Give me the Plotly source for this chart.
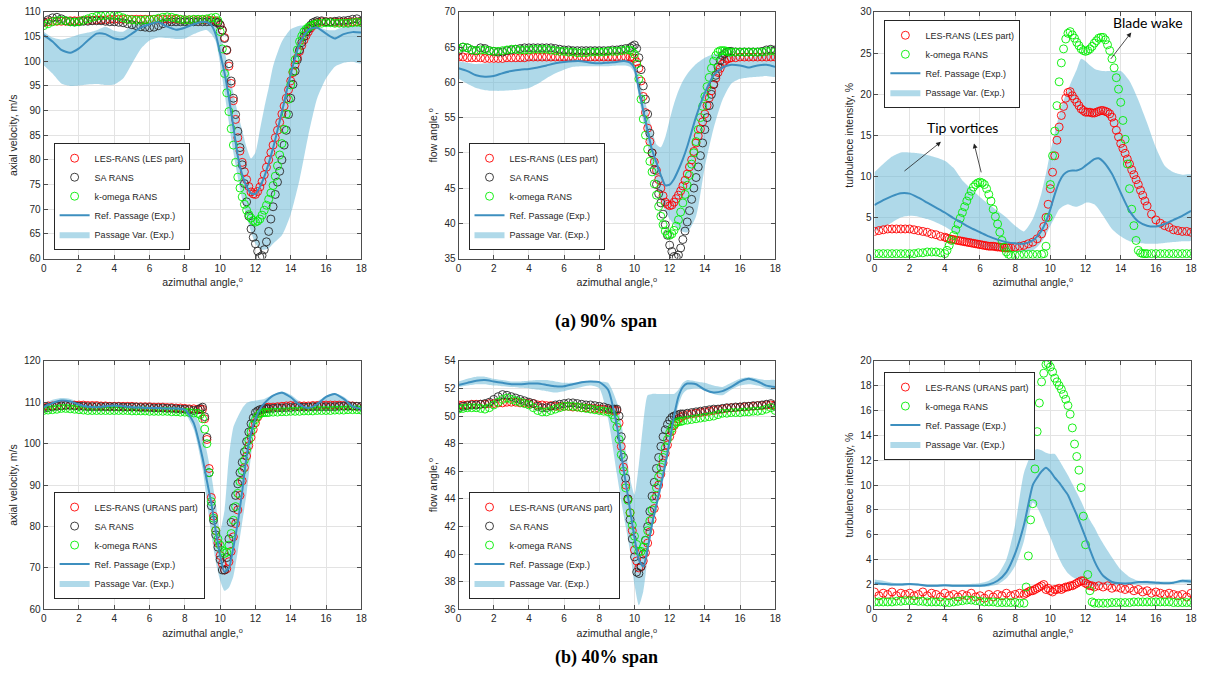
import plotly.graph_objects as go

# ---------------- data ----------------
XS = [0,0.25,0.5,0.75,1,1.25,1.5,1.75,2,2.25,2.5,2.75,3,3.25,3.5,3.75,4,4.25,4.5,4.75,
      5,5.25,5.5,5.75,6,6.25,6.5,6.75,7,7.25,7.5,7.75,8,8.25,8.5,8.75,9,9.25,9.5,9.75,
      10,10.25,10.5,10.75,11,11.25,11.5,11.75,12,12.25,12.5,12.75,13,13.25,13.5,13.75,
      14,14.25,14.5,14.75,15,15.25,15.5,15.75,16,16.25,16.5,16.75,17,17.25,17.5,17.75,18]
XR = [0,0.5,1,1.5,2,2.5,3,3.5,4, 4.5,5,5.5,6,6.5,7,7.5,8,8.5,
      9,9.25,9.5,9.75,10,10.25,10.5,10.75,11, 11.25,11.5,11.75,12,12.25,12.5,12.75,13,13.5,
      14,14.5,15,15.5,16,16.5,17,17.5,18]
# extra angles sampled inside the wake (denser data there)
XM_A = [9.875,10.125,10.375,10.625,10.875,11.125,11.375,11.625,11.875,12.125,12.375,12.625,
        12.875,13.125,13.375,13.625,13.875,14.125,14.375,14.625,14.875,15.125,15.375]
XM_T = [4.125,4.375,4.625,4.875,5.125,5.375,5.625,5.875,6.125,6.375,6.625,6.875,7.125,7.375,7.625,
        9.625,9.875,10.125,10.375,10.625,10.875,11.125,11.375,11.625,11.875,12.125,12.375,12.625,
        12.875,13.125,13.375,13.625,13.875,14.125,14.375,14.625,14.875,15.125,15.375]
XM_B = [8.875,9.125,9.375,9.625,9.875,10.125,10.375,10.625,10.875,11.125,11.375,11.625,
        11.875,12.125,12.375,12.625]
XM_C = [8.625,8.875,9.125,9.375,9.625,9.875,10.125,10.375,10.625,10.875,11.125,11.375,
        11.625,11.875,12.125,12.375]

# (a) 90% span - axial velocity
LES1 = [107.8,108.0,108.1,108.1, 108.1,108.1,108.2,108.2, 108.2,108.3,108.3,108.3, 108.4,108.4,108.4,108.5,
        108.5,108.5,108.5,108.5, 108.5,108.5,108.5,108.5, 108.5,108.5,108.5,108.5, 108.5,108.5,108.5,108.4,
        108.4,108.4,108.4,108.4, 108.4,108.4,108.3,108.2, 107.3,104.8,99.0,92.0, 84.5,79.5,76.0,73.5,
        73.0,74.5,77.0,80.0, 83.0,86.0,89.3,92.5, 96.0,99.3,102.0,104.3, 106.0,107.2,107.8,108.0,
        108.0,108.0,107.9,107.9, 107.9,107.9,108.0,108.0, 107.9]
LES1M = [107.9,106.3,102.2,95.5,88.2,81.8,77.6,74.6,73.1,73.6,75.6,78.5,
         81.5,84.5,87.6,90.9,94.2,97.7,100.7,103.2,105.2,106.7,107.5]
SA1 = [108.0,108.4,108.8,108.9, 108.6,108.2,108.0,108.0, 108.0,108.1,108.1,108.2, 108.2,108.2,108.1,108.0,
       108.0,107.9,107.8,107.6, 107.4,107.2,107.0,106.9, 106.8,106.9,107.2,107.6, 107.9,108.0,108.0,108.0,
       108.0,108.0,108.0,108.0, 108.0,108.0,108.0,107.9, 107.4,104.6,99.5,92.5, 85.8,79.0,71.5,66.0,
       63.0,60.3,61.8,65.5, 70.5,75.5,80.0,86.0, 92.5,98.0,102.3,105.0, 106.6,107.8,108.2,108.2,
       108.0,108.0,108.1,108.2, 108.2,108.3,108.5,108.6, 108.2]
SA1M = [107.8,106.3,102.3,96.0,89.2,82.5,75.2,68.6,64.3,61.5,60.6,63.4,
        68.0,73.0,77.7,83.0,89.2,95.3,100.3,103.8,106.0,107.3,108.0]
KW1 = [107.2,107.6,108.0,108.2, 108.3,108.2,108.0,107.9, 108.0,108.3,108.6,108.9, 109.1,109.2,109.3,109.3,
       109.3,109.1,108.8,108.5, 108.4,108.3,108.3,108.4, 108.4,108.5,108.7,108.9, 109.0,108.9,108.7,108.5,
       108.4,108.4,108.5,108.5, 108.5,108.6,108.8,108.9, 106.0,97.5,89.8,83.0, 76.5,72.5,69.8,68.2,
       67.4,68.0,69.8,72.0, 74.8,78.8,83.3,89.3, 95.2,100.3,104.0,106.0, 106.9,107.3,107.6,107.7,
       107.8,107.8,107.7,107.7, 107.7,107.7,107.8,107.9, 107.8]
KW1M = [108.2,102.5,93.6,86.3,79.5,74.3,71.0,68.9,67.7,67.6,68.8,70.8,
        73.3,76.7,81.0,86.2,92.3,97.9,102.3,105.1,106.5,107.1,107.5]
REF1 = [105.3,104.0,102.3,101.7,102.6,104.2,105.6,105.5,104.6,
        104.5,105.6,106.8,107.5,107.9,107.0,106.4,106.8,107.5,
        108.0,107.9,107.3,105.4,101.6,97.6,92.5,86.7,80.8,
        77.0,74.6,73.2,73.1,74.5,76.6,79.3,82.4,89.7,
        97.4,103.5,106.4,106.8,105.6,104.6,105.5,105.9,105.8]
UP1 = [106.0,104.8,104.4,104.8,105.4,105.8,106.3,107.0,106.2,
       106.0,107.2,108.0,108.4,108.8,108.4,108.0,108.0,108.3,
       108.5,108.6,108.5,107.8,105.5,102.0,98.0,93.5,89.5,
       86.0,82.5,80.3,81.5,86.0,90.5,94.6,99.0,104.0,
       106.5,107.2,107.2,107.0,106.4,106.3,107.0,107.3,107.3]
LOW1 = [99.2,97.5,95.5,95.0,95.1,95.3,95.4,95.2,95.3,
        96.5,99.5,102.5,104.2,104.8,104.7,104.5,104.6,105.5,
        106.2,106.3,105.5,104.0,99.5,93.5,87.5,81.5,76.5,
        72.0,68.5,65.5,63.0,62.0,61.8,62.1,63.0,64.7,
        69.0,76.0,85.0,92.5,96.5,98.9,99.7,99.9,99.6]

# (a) 90% span - flow angle
LES2 = [63.6,63.6,63.5,63.5, 63.5,63.5,63.4,63.4, 63.4,63.4,63.4,63.5, 63.5,63.5,63.5,63.5,
        63.6,63.6,63.6,63.6, 63.6,63.6,63.6,63.6, 63.6,63.6,63.6,63.6, 63.6,63.6,63.6,63.6,
        63.6,63.6,63.6,63.6, 63.6,63.6,63.6,63.6, 63.4,62.0,58.0,53.5, 50.0,47.5,45.0,43.0,
        42.5,43.0,44.0,45.3, 47.0,49.0,51.4,53.4, 55.5,57.8,59.7,61.4, 62.6,63.3,63.5,63.5,
        63.6,63.6,63.6,63.6, 63.6,63.6,63.6,63.6, 63.6]
LES2M = [63.5,62.9,60.2,55.7,51.6,48.7,46.2,43.9,42.7,42.6,43.5,44.6,
         46.1,48.0,50.2,52.4,54.4,56.7,58.8,60.6,62.0,63.0,63.4]
SA2 = [64.5,65.0,64.9,64.6, 64.5,64.9,64.8,64.5, 64.4,64.3,64.3,64.5, 64.6,64.7,64.8,64.9,
       64.9,64.9,64.9,64.9, 64.9,64.9,64.8,64.7, 64.6,64.6,64.5,64.5, 64.5,64.5,64.5,64.5,
       64.5,64.5,64.5,64.6, 64.6,64.7,64.8,64.9, 65.3,63.5,59.5,55.5, 50.0,45.5,42.9,39.8,
       36.9,35.3,35.5,37.7, 40.2,43.4,46.5,49.6, 53.3,56.7,59.7,62.2, 63.8,64.3,64.4,64.3,
       64.3,64.3,64.3,64.3, 64.3,64.4,64.6,64.7, 64.6]
SA2M = [65.1,64.8,61.8,57.6,52.8,47.6,44.2,41.3,38.3,36.0,35.2,36.5,
        38.9,41.8,45.0,48.0,51.4,55.0,58.3,61.0,63.1,64.1,64.4]
KW2 = [64.8,65.0,64.9,64.6, 64.5,64.6,64.6,64.5, 64.4,64.4,64.5,64.6, 64.7,64.7,64.6,64.6,
       64.6,64.7,64.7,64.7, 64.7,64.6,64.5,64.4, 64.4,64.3,64.3,64.2, 64.2,64.2,64.3,64.3,
       64.3,64.3,64.4,64.4, 64.4,64.5,64.6,64.6, 64.0,60.5,54.8,50.5, 47.3,44.0,41.0,38.9,
       38.3,39.0,40.5,42.9, 45.4,48.4,51.6,55.0, 58.0,60.7,63.0,64.3, 64.5,64.4,64.3,64.3,
       64.3,64.3,64.3,64.3, 64.3,64.3,64.4,64.5, 64.4]
KW2M = [64.4,62.6,57.6,52.5,48.8,45.6,42.4,39.8,38.5,38.5,39.6,41.6,
        44.1,46.8,50.0,53.3,56.6,59.4,62.0,63.8,64.5,64.5,64.3]
REF2 = [62.0,61.6,61.0,60.8,60.9,61.3,61.6,61.8,61.9,
        62.1,62.4,62.7,62.9,63.0,63.0,62.8,62.7,62.8,
        62.9,63.0,63.0,62.8,62.0,59.0,56.0,53.1,50.4,
        48.6,46.8,45.4,45.5,46.3,47.6,49.1,50.9,55.1,
        58.5,61.0,62.1,62.5,62.4,62.1,62.4,62.5,62.2]
UP2 = [63.0,62.8,62.6,62.7,62.8,62.9,63.0,63.1,63.3,
       63.3,63.3,63.3,63.3,63.3,63.2,63.2,63.3,63.3,
       63.3,63.3,63.3,63.3,62.8,60.8,58.2,55.9,53.2,
       51.2,50.8,52.2,54.7,57.0,58.8,60.2,61.2,62.6,
       63.5,64.0,64.0,63.8,63.5,63.5,63.7,63.9,63.8]
LOW2 = [60.5,59.8,59.2,58.9,58.8,58.8,58.9,59.0,59.2,
        59.8,60.6,61.3,61.8,62.2,62.3,62.3,62.3,62.3,
        62.4,62.4,62.4,62.2,61.3,58.0,54.5,51.0,47.8,
        45.5,43.0,41.8,40.6,39.8,39.2,38.8,38.7,41.0,
        48.0,53.5,57.5,59.8,60.5,60.7,60.8,60.9,60.8]

# (a) 90% span - turbulence intensity
LES3 = [3.3,3.4,3.5,3.6, 3.6,3.6,3.6,3.6, 3.6,3.5,3.4,3.3, 3.2,3.0,2.9,2.7,
        2.6,2.4,2.3,2.2, 2.1,2.0,1.9,1.8, 1.7,1.6,1.5,1.5, 1.4,1.35,1.3,1.35,
        1.4,1.5,1.6,1.8, 2.0,2.4,3.0,5.0, 8.5,12.5,16.0,18.5, 20.2,19.8,19.0,18.2,
        17.8,17.8,17.7,17.9, 18.0,17.8,17.2,15.6, 14.0,12.8,11.5,10.2, 9.0,7.7,6.4,5.4,
        4.7,4.3,4.0,3.8, 3.5,3.4,3.3,3.3, 3.2]
LES3M = [2.5,2.35,2.25,2.15,2.05,1.95,1.85,1.75,1.65,1.55,1.5,1.45,1.4,1.3,1.3,
         3.9,6.6,10.5,14.4,17.4,19.5,20.3,19.4,18.6,18.0,17.8,17.7,17.8,
         18.0,17.9,17.6,16.5,14.8,13.4,12.1,10.8,9.6,8.3,7.0]
KW3 = [0.6,0.6,0.6,0.6, 0.6,0.6,0.6,0.6, 0.6,0.6,0.7,0.7, 0.8,0.8,0.8,0.7,
       0.6,1.6,2.8,4.2, 5.6,7.0,8.2,9.0, 9.3,9.0,7.8,6.0, 4.2,2.2,0.8,0.4,
       0.4,0.4,0.5,0.5, 0.5,0.5,0.5,1.5, 9.0,15.5,21.5,25.5, 27.4,27.2,26.3,25.5,
       25.2,25.5,26.2,26.8, 26.9,26.0,24.3,22.0, 19.0,14.5,8.5,4.0, 1.0,0.6,0.6,0.6,
       0.6,0.6,0.6,0.6, 0.6,0.6,0.6,0.6, 0.6]
KW3M = [1.0,2.2,3.5,4.9,6.3,7.6,8.7,9.2,9.2,8.5,7.0,5.1,3.2,1.4,0.5,
        0.6,5.0,12.5,18.6,23.8,26.7,27.6,26.8,25.9,25.3,25.3,25.8,26.5,
        26.9,26.6,25.3,23.2,20.6,16.8,11.5,6.0,2.2,0.7,0.6]
REF3 = [6.5,7.1,7.6,7.95,7.9,7.4,6.8,6.2,5.6,
        4.9,4.3,3.7,3.2,2.7,2.3,2.0,1.85,1.8,
        2.2,2.7,3.4,4.5,6.0,7.8,9.3,10.2,10.6,
        10.7,10.7,10.9,11.3,11.7,12.1,12.2,11.8,10.3,
        8.0,5.8,4.5,4.0,3.9,4.2,4.7,5.2,5.8]
UP3 = [10.5,11.5,12.4,12.9,12.9,12.8,12.6,12.3,11.9,
       11.0,9.5,8.5,7.5,6.6,5.8,5.0,4.0,3.3,
       4.8,6.2,8.0,10.3,13.0,15.3,17.5,19.2,20.5,
       21.8,23.0,24.3,24.0,23.5,23.1,22.9,22.8,22.8,
       22.8,21.6,19.3,16.5,13.5,11.3,10.5,10.2,10.2]
LOW3 = [3.3,3.8,4.4,5.0,5.2,5.1,4.8,4.4,3.9,
        3.2,2.5,1.9,1.5,1.2,1.0,0.9,0.8,0.8,
        1.0,1.4,2.0,2.9,4.0,5.0,6.0,6.4,6.6,
        6.4,6.3,6.5,6.8,6.8,6.6,6.0,5.2,3.6,
        2.7,2.1,1.9,1.8,1.8,1.9,2.0,2.1,2.2]

# (b) 40% span - axial velocity
LES4 = [109.0,109.1,109.1,109.2, 109.2,109.3,109.3,109.3, 109.3,109.3,109.2,109.2, 109.2,109.1,109.1,109.0,
        109.0,109.0,109.0,109.0, 109.0,108.9,108.9,108.9, 108.9,108.8,108.8,108.8, 108.7,108.7,108.6,108.6,
        108.5,108.4,108.4,108.3, 108.3,101.0,87.0,79.0, 73.0,69.5,71.5,77.5, 84.0,91.0,97.0,101.5,
        105.0,107.5,108.5,108.8, 108.8,108.9,109.0,109.1, 109.2,109.2,109.1,109.1, 109.1,109.2,109.2,109.3,
        109.3,109.3,109.3,109.3, 109.2,109.2,109.1,109.0, 109.0]
LES4M = [108.3,106.0,94.0,82.5,76.0,71.0,69.8,74.0,80.7,87.5,94.2,99.5,103.4,106.4,108.1,108.7]
SA4 = [108.5,108.7,108.9,109.0, 109.1,109.2,109.2,109.1, 109.0,109.0,108.9,108.9, 108.9,108.9,108.9,108.9,
       108.9,108.9,108.8,108.8, 108.8,108.8,108.7,108.7, 108.7,108.6,108.6,108.6, 108.5,108.5,108.4,108.3,
       108.3,108.2,108.0,108.2, 108.8,101.5,85.0,78.0, 72.0,69.5,77.0,84.5, 90.3,95.5,100.5,104.8,
       107.5,108.2,108.4,108.4, 108.5,108.6,108.6,108.7, 108.7,108.8,108.8,108.8, 108.8,108.9,108.9,108.9,
       108.9,108.9,108.9,109.0, 109.0,109.0,109.0,109.0, 109.0]
SA4M = [108.5,106.5,93.0,81.5,75.0,69.5,72.5,81.0,87.5,93.0,98.0,102.8,106.2,107.9,108.3,108.5]
KW4 = [108.0,108.1,108.2,108.3, 108.5,108.5,108.4,108.3, 108.2,108.1,108.0,108.0, 108.0,108.0,108.0,108.0,
       108.0,108.0,108.0,108.0, 107.9,107.9,107.9,107.9, 107.8,107.8,107.8,107.8, 107.8,107.7,107.7,107.6,
       107.6,107.5,107.4,107.3, 106.0,100.0,86.0,79.0, 75.5,73.5,75.5,81.5, 88.0,93.5,98.5,102.8,
       105.8,107.2,107.5,107.5, 107.6,107.6,107.7,107.7, 107.8,107.8,107.8,107.9, 107.9,107.9,108.0,108.0,
       108.0,108.0,108.1,108.1, 108.1,108.2,108.2,108.2, 108.1]
KW4M = [107.0,103.5,93.0,82.0,77.0,74.2,73.8,78.3,84.8,90.8,96.0,100.8,104.5,106.6,107.4,107.5]
REF4 = [108.8,109.8,110.4,110.2,109.4,108.9,108.8,109.0,109.2,
        109.0,108.8,108.7,108.6,108.6,108.5,108.5,108.2,105.0,
        96.6,91.0,85.6,79.0,73.0,69.0,70.0,75.0,81.0,
        88.5,97.0,102.5,106.0,108.3,109.7,110.8,111.6,112.3,
        111.2,109.4,108.6,109.5,111.3,112.0,110.8,109.0,108.4]
UP4 = [109.5,110.6,111.0,110.8,110.0,109.6,109.4,109.6,109.7,
       109.5,109.3,109.3,109.3,109.2,109.2,109.2,109.0,107.5,
       103.0,98.0,92.5,85.5,79.0,84.0,97.0,104.0,106.5,
       108.5,109.8,110.2,110.4,110.6,110.8,111.3,111.8,112.6,
       111.8,110.2,109.5,110.2,111.5,112.2,111.3,109.8,109.2]
LOW4 = [108.0,108.8,109.3,109.2,108.7,108.5,108.4,108.5,108.6,
        108.4,108.2,108.1,108.1,108.0,107.9,107.7,107.3,103.5,
        94.0,86.0,78.0,71.5,67.0,64.5,65.3,68.0,74.0,
        81.0,88.0,97.0,104.5,106.8,107.4,107.6,107.8,108.0,
        108.3,108.2,108.1,108.3,108.4,108.4,108.4,108.2,107.8]

# (b) 40% span - flow angle
LES5 = [50.8,50.8,50.8,50.85, 50.85,50.85,50.85,50.9, 50.9,50.95,50.95,51.0, 51.0,51.0,50.95,50.95,
        50.9,50.9,50.8,50.8, 50.75,50.75,50.7,50.7, 50.7,50.7,50.65,50.65, 50.6,50.6,50.55,50.55,
        50.5,50.5,50.45,50.4, 50.4,47.8,45.0,43.0, 40.3,39.0,39.5,40.8, 42.5,44.2,45.8,47.3,
        48.5,49.3,49.8,50.0, 50.1,50.15,50.2,50.25, 50.3,50.35,50.4,50.45, 50.5,50.55,50.6,50.6,
        50.65,50.65,50.7,50.7, 50.75,50.75,50.8,50.8, 50.8]
LES5M = [50.4,49.5,46.3,44.0,41.7,39.5,39.1,40.1,41.6,43.3,45.0,46.6,47.9,48.9,49.6,49.9]
SA5 = [50.6,50.7,50.75,50.8, 50.8,50.85,50.9,51.0, 51.2,51.4,51.55,51.5, 51.4,51.3,51.2,51.1,
       51.0,50.9,50.7,50.6, 50.6,50.7,50.8,50.85, 50.9,50.95,50.95,50.9, 50.85,50.8,50.8,50.75,
       50.7,50.65,50.55,50.5, 50.5,48.5,45.5,42.5, 39.8,38.6,40.0,42.0, 44.2,46.2,47.8,49.0,
       49.7,50.0,50.1,50.15, 50.2,50.25,50.3,50.35, 50.4,50.45,50.5,50.5, 50.55,50.6,50.6,50.65,
       50.65,50.7,50.7,50.75, 50.75,50.8,50.85,50.9, 50.7]
SA5M = [50.5,50.0,47.0,44.0,41.1,38.7,39.1,41.0,43.1,45.2,47.0,48.5,49.4,49.9,50.05,50.15]
KW5 = [50.5,50.55,50.6,50.6, 50.6,50.55,50.5,50.6, 50.8,51.0,51.2,51.3, 51.2,51.1,51.0,50.9,
       50.8,50.6,50.4,50.3, 50.3,50.4,50.5,50.6, 50.7,50.7,50.7,50.65, 50.6,50.55,50.5,50.45,
       50.4,50.35,50.3,50.1, 49.2,47.2,44.8,43.0, 41.3,40.2,40.5,41.7, 43.2,44.8,46.3,47.7,
       48.8,49.4,49.6,49.65, 49.7,49.75,49.8,49.85, 49.9,49.95,50.0,50.1, 50.2,50.2,50.25,50.25,
       50.25,50.3,50.3,50.35, 50.35,50.4,50.5,50.6, 50.4]
KW5M = [49.8,48.3,46.0,43.9,42.1,40.7,40.2,41.0,42.4,44.0,45.6,47.0,48.3,49.1,49.5,49.6]
REF5 = [52.25,52.4,52.55,52.6,52.5,52.4,52.3,52.3,52.35,
        52.35,52.25,52.15,52.15,52.3,52.45,52.5,52.45,51.9,
        49.3,47.2,45.2,43.2,41.2,39.6,39.1,40.4,42.2,
        43.6,45.0,46.5,48.2,50.0,51.4,52.1,52.35,52.3,
        51.9,51.7,51.8,52.1,52.5,52.7,52.5,52.2,52.1]
UP5 = [52.5,52.7,52.85,52.85,52.7,52.6,52.5,52.5,52.55,
       52.6,52.6,52.5,52.4,52.4,52.5,52.55,52.5,52.4,
       51.0,49.5,47.5,45.5,44.3,46.5,49.5,51.5,51.6,
       51.6,51.6,51.6,51.6,51.6,51.9,52.4,52.6,52.5,
       52.4,52.2,52.1,52.4,52.7,52.8,52.7,52.6,52.6]
LOW5 = [52.1,52.2,52.3,52.3,52.2,52.15,52.1,52.05,52.0,
        51.9,51.8,51.7,51.8,51.95,52.1,52.2,52.0,49.8,
        45.8,43.8,42.0,40.2,37.8,36.3,37.3,39.8,41.8,
        43.2,44.6,46.0,47.7,49.4,50.8,51.6,51.9,52.0,
        51.9,51.6,51.5,51.9,52.2,52.3,52.2,52.0,51.9]

# (b) 40% span - turbulence intensity
LES6 = [1.4,1.1,1.3,1.2, 1.4,1.1,1.3,1.2, 1.3,1.1,1.2,1.4, 1.1,1.3,1.2,1.0,
        1.3,1.1,1.2,1.0, 1.2,1.1,1.3,1.0, 1.1,0.9,1.2,1.0, 1.2,1.1,1.3,1.1,
        1.2,1.3,1.2,1.4, 1.5,1.7,1.9,1.6, 1.5,1.6,1.7,1.7, 1.8,1.9,2.1,2.3,
        2.1,1.9,1.8,1.9, 1.8,1.9,1.7,1.8, 1.7,1.6,1.7,1.5, 1.6,1.4,1.5,1.3,
        1.4,1.3,1.2,1.3, 1.2,1.1,1.2,1.0, 1.3]
LES6M = [1.3,1.5,1.6,1.8,2.0,1.7,1.4,1.6,1.6,1.8,1.9,2.0,2.2,2.3,2.0,1.9]
KW6 = [0.6,0.6,0.6,0.6, 0.6,0.65,0.65,0.7, 0.7,0.7,0.65,0.65, 0.6,0.6,0.6,0.6,
       0.55,0.55,0.6,0.65, 0.7,0.75,0.75,0.7, 0.65,0.6,0.6,0.6, 0.55,0.55,0.55,0.55,
       0.55,0.5,0.5,4.3, 8.5,14.3,18.3,19.7, 19.5,18.6,18.0,17.3, 16.4,14.6,12.3,9.8,
       5.2,1.5,0.5,0.5, 0.5,0.5,0.55,0.55, 0.55,0.55,0.55,0.6, 0.6,0.6,0.6,0.6,
       0.6,0.6,0.6,0.6, 0.55,0.55,0.55,0.55, 0.55]
KW6M = [1.8,7.2,11.3,16.6,19.0,19.8,19.1,18.3,17.7,16.9,15.7,13.3,11.2,7.5,2.8,0.6]
REF6 = [2.1,2.05,2.0,2.0,2.05,2.0,1.9,1.9,1.95,
        1.9,1.9,1.9,1.9,2.0,2.3,3.0,4.5,6.8,
        10.0,10.6,11.1,11.4,11.1,10.6,10.2,9.7,9.2,
        8.4,7.6,6.7,5.8,4.8,3.9,3.2,2.7,2.2,
        2.1,2.1,2.2,2.2,2.15,2.1,2.15,2.3,2.25]
UP6 = [2.4,2.3,2.15,2.1,2.1,2.05,2.0,2.0,2.0,
       2.0,2.0,2.05,2.1,2.3,2.8,4.0,6.8,11.0,
       12.7,12.9,12.8,12.6,12.5,12.5,12.0,11.4,10.8,
       10.1,9.4,8.7,7.9,7.2,6.6,5.9,5.3,4.2,
       3.2,2.6,2.3,2.3,2.25,2.25,2.25,2.4,2.4]
LOW6 = [2.0,1.95,1.9,1.9,1.95,1.9,1.8,1.8,1.85,
        1.8,1.8,1.8,1.8,1.85,2.0,2.5,3.5,5.5,
        8.6,8.2,7.5,6.6,5.8,4.9,4.1,3.4,2.9,
        2.6,2.4,2.2,2.0,1.9,1.9,1.9,1.95,1.95,
        1.95,2.0,2.0,2.0,2.0,2.05,2.05,2.1,2.1]

# annotation positions (panel 3, data coords)
LABELS3 = [("Tip vortices", 5.0, 16.0), ("Blade wake", 15.53, 28.7)]
ARROWS3 = [((1.62, 10.5), (3.78, 14.2)), ((6.09, 10.3), (5.66, 14.0)), ((13.37, 24.1), (14.6, 27.5))]

# ---------------- styling ----------------
RED, BLACK, GREEN = "#ff0000", "#2a2a2a", "#00ee00"
LINE_C = "#3d8fbf"
BAND_C = "rgba(110,185,215,0.55)"
FONT = "Liberation Sans, Arial, sans-serif"
DEG = "<sup>o</sup>"

W, H = 1207, 694
XD = [(41 / W, 361 / W), (459 / W, 778 / W), (878 / W, 1197 / W)]
YD = [(1 - 257 / H, 1 - 6 / H), (1 - 614 / H, 1 - 361 / H)]

PANELS = [
    dict(ytitle="axial velocity, m/s", yr=[60, 110], dt=5, ref=REF1, up=UP1, low=LOW1, xm=XM_A,
         series=[("LES-RANS (LES part)", LES1, LES1M, RED), ("SA RANS", SA1, SA1M, BLACK),
                 ("k-omega RANS", KW1, KW1M, GREEN)],
         leg=dict(x=51 / W, y=1 - 248 / H, yanchor="bottom")),
    dict(ytitle="flow angle," + DEG, yr=[35, 70], dt=5, ref=REF2, up=UP2, low=LOW2, xm=XM_A,
         series=[("LES-RANS (LES part)", LES2, LES2M, RED), ("SA RANS", SA2, SA2M, BLACK),
                 ("k-omega RANS", KW2, KW2M, GREEN)],
         leg=dict(x=469 / W, y=1 - 248 / H, yanchor="bottom")),
    dict(ytitle="turbulence intensity, %", yr=[0, 30], dt=5, ref=REF3, up=UP3, low=LOW3, xm=XM_T,
         series=[("LES-RANS (LES part)", LES3, LES3M, RED), ("k-omega RANS", KW3, KW3M, GREEN)],
         leg=dict(x=888 / W, y=1 - 14 / H, yanchor="top")),
    dict(ytitle="axial velocity, m/s", yr=[60, 120], dt=10, ref=REF4, up=UP4, low=LOW4, xm=XM_B,
         series=[("LES-RANS (URANS part)", LES4, LES4M, RED), ("SA RANS", SA4, SA4M, BLACK),
                 ("k-omega RANS", KW4, KW4M, GREEN)],
         leg=dict(x=51 / W, y=1 - 603 / H, yanchor="bottom")),
    dict(ytitle="flow angle," + DEG, yr=[36, 54], dt=2, ref=REF5, up=UP5, low=LOW5, xm=XM_B,
         series=[("LES-RANS (URANS part)", LES5, LES5M, RED), ("SA RANS", SA5, SA5M, BLACK),
                 ("k-omega RANS", KW5, KW5M, GREEN)],
         leg=dict(x=469 / W, y=1 - 603 / H, yanchor="bottom")),
    dict(ytitle="turbulence intensity, %", yr=[0, 20], dt=2, ref=REF6, up=UP6, low=LOW6, xm=XM_C,
         series=[("LES-RANS (URANS part)", LES6, LES6M, RED), ("k-omega RANS", KW6, KW6M, GREEN)],
         leg=dict(x=888 / W, y=1 - 372 / H, yanchor="top")),
]

fig = go.Figure()
layout = dict(width=W, height=H, margin=dict(l=0, r=0, t=0, b=0),
              paper_bgcolor="white", plot_bgcolor="white",
              font=dict(family=FONT, size=10, color="#262626"), showlegend=True)

for i, p in enumerate(PANELS):
    n = i + 1
    sfx = "" if n == 1 else str(n)
    xa, ya, lg = "x" + sfx, "y" + sfx, "legend" + sfx
    fig.add_trace(go.Scatter(x=XR + XR[::-1], y=p["up"] + p["low"][::-1], fill="toself",
                             fillcolor=BAND_C, mode="lines",
                             line=dict(width=0, shape="spline", smoothing=0.6),
                             name="Passage Var. (Exp.)", legend=lg, legendrank=5,
                             xaxis=xa, yaxis=ya, hoverinfo="skip"))
    for k, (nm, ys, ym, col) in enumerate(p["series"]):
        fig.add_trace(go.Scatter(x=XS + p["xm"], y=ys + ym, mode="markers",
                                 marker=dict(symbol="circle-open", size=8, color=col, line=dict(width=0.9)),
                                 name=nm, legend=lg, legendrank=k + 1, xaxis=xa, yaxis=ya))
    fig.add_trace(go.Scatter(x=XR, y=p["ref"], mode="lines",
                             line=dict(color=LINE_C, width=2, shape="spline", smoothing=0.6),
                             name="Ref. Passage (Exp.)", legend=lg, legendrank=4,
                             xaxis=xa, yaxis=ya))
    col_i, row_i = i % 3, i // 3
    common = dict(showgrid=True, gridcolor="#e3e3e3", gridwidth=1, showline=True,
                  linecolor="#4d4d4d", linewidth=1, mirror="ticks", ticks="inside",
                  ticklen=4, tickcolor="#4d4d4d", zeroline=False,
                  tickfont=dict(family=FONT, size=10, color="#262626"))
    layout["xaxis" + sfx] = dict(domain=list(XD[col_i]), anchor=ya, range=[0, 18], dtick=2, tick0=0,
                                 title=dict(text="azimuthal angle," + DEG, font=dict(size=10.5), standoff=6),
                                 **common)
    layout["yaxis" + sfx] = dict(domain=list(YD[row_i]), anchor=xa, range=p["yr"], dtick=p["dt"],
                                 title=dict(text=p["ytitle"], font=dict(size=10.5), standoff=4),
                                 **common)
    layout[lg] = dict(x=p["leg"]["x"], y=p["leg"]["y"], xanchor="left", yanchor=p["leg"]["yanchor"],
                      bgcolor="white", bordercolor="#262626", borderwidth=1,
                      font=dict(family=FONT, size=9, color="#262626"),
                      itemwidth=30, tracegroupgap=0)

ann = []
for txt, ax_, ay_ in LABELS3:
    ann.append(dict(text=txt, x=ax_, y=ay_, xref="x3", yref="y3", showarrow=False,
                    font=dict(family="Lato, Open Sans, sans-serif", size=14, color="black")))
for (tx, ty), (hx, hy) in ARROWS3:
    ann.append(dict(text="", x=hx, y=hy, ax=tx, ay=ty, xref="x3", yref="y3", axref="x3", ayref="y3",
                    showarrow=True, arrowhead=2, arrowsize=1.2, arrowwidth=0.8, arrowcolor="#222"))
ann.append(dict(text="<b>(a) 90% span</b>", x=608 / W, y=1 - 321 / H, xref="paper", yref="paper",
                showarrow=False, font=dict(family="Liberation Serif, Times New Roman, serif", size=18, color="black")))
ann.append(dict(text="<b>(b) 40% span</b>", x=608 / W, y=1 - 676 / H, xref="paper", yref="paper",
                showarrow=False, font=dict(family="Liberation Serif, Times New Roman, serif", size=18, color="black")))
layout["annotations"] = ann

fig.update_layout(**layout)
fig.write_html("out.html", config={"displayModeBar": False},
               post_script="document.body.style.margin='0';")
